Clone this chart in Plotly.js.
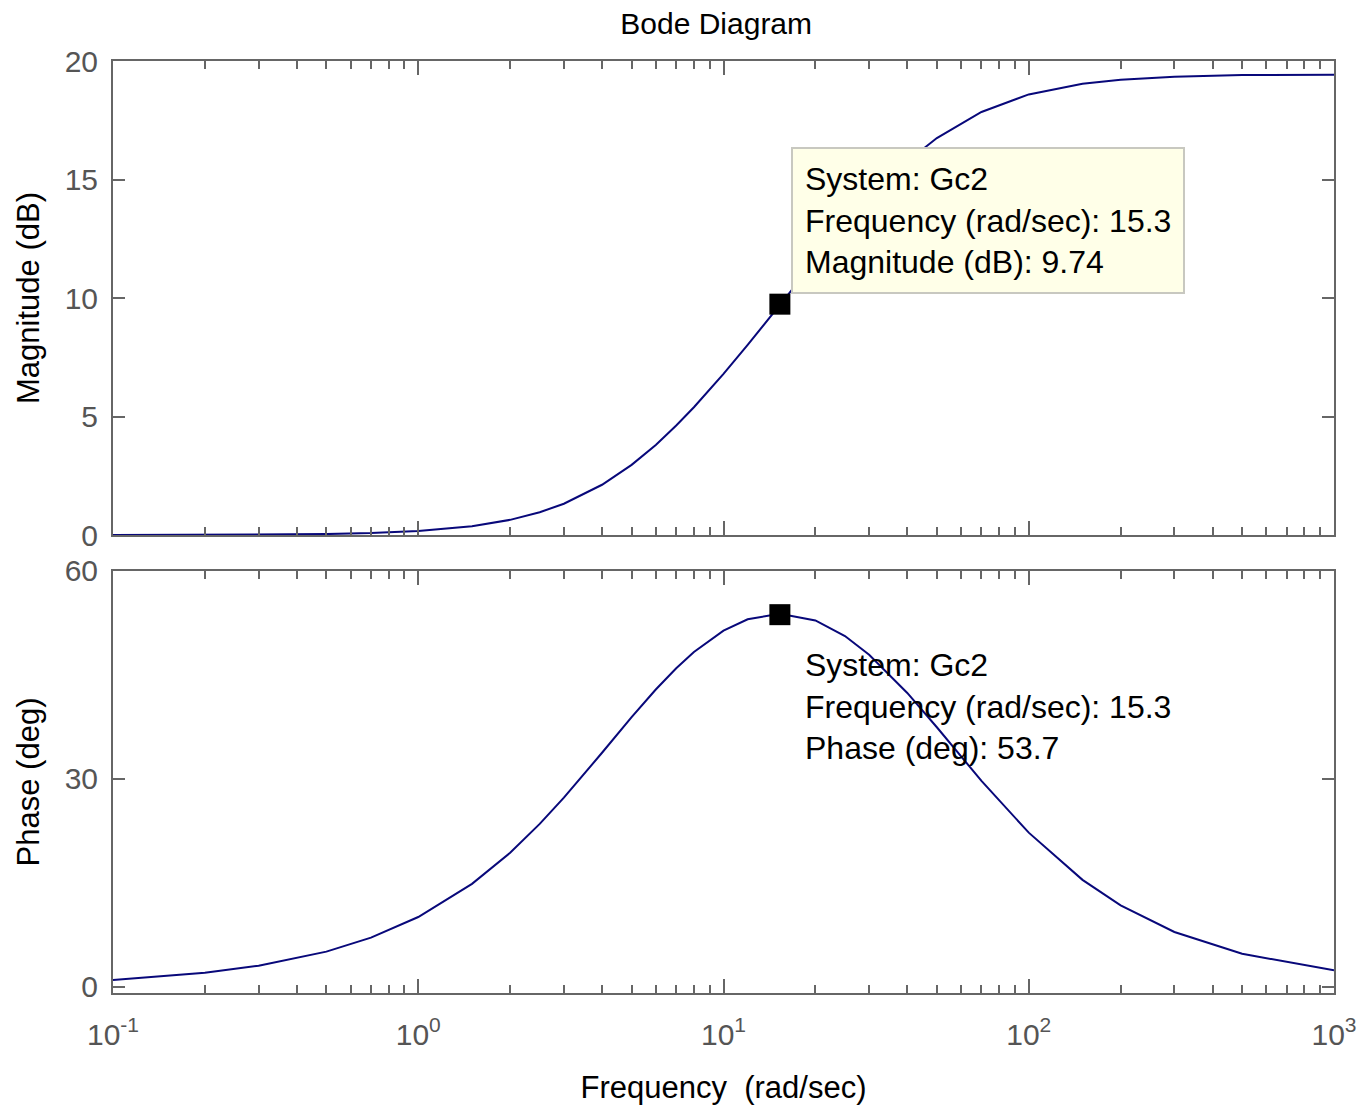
<!DOCTYPE html>
<html>
<head>
<meta charset="utf-8">
<script src="https://cdn.plot.ly/plotly-3.0.1.min.js"></script>
<style>
html,body{margin:0;padding:0;background:#fff;}
#chart{width:1361px;height:1107px;}
</style>
</head>
<body>
<div id="chart"></div>
<script>
// Frequencies (rad/sec)
const freq = [0.1, 0.2, 0.3, 0.5, 0.7, 1, 1.5, 2, 2.5, 3, 4, 5, 6, 7, 8, 10, 12, 15.3, 20, 25, 30, 40, 50, 70, 100, 150, 200, 300, 500, 1000];
// Magnitude (dB)
const magDb = [0.00, 0.01, 0.02, 0.04, 0.08, 0.17, 0.37, 0.64, 0.96, 1.32, 2.12, 2.96, 3.80, 4.62, 5.39, 6.80, 8.02, 9.72, 11.58, 13.06, 14.19, 15.76, 16.75, 17.85, 18.59, 19.04, 19.21, 19.34, 19.41, 19.42];
// Phase (deg)
const phaseDeg = [1.02, 2.05, 3.07, 5.10, 7.11, 10.09, 14.87, 19.36, 23.52, 27.30, 33.78, 38.91, 42.90, 45.97, 48.31, 51.39, 53.03, 53.83, 52.87, 50.62, 47.93, 42.41, 37.46, 29.73, 22.26, 15.45, 11.77, 7.93, 4.79, 2.40];

// Data tip values
const tipFreq = 15.3;
const tipMag = 9.74;
const tipPhase = 53.7;
const systemName = "Gc2";

// Axis ticks
const xTickVals = [0.1, 1, 10, 100, 1000];
const xTickText = ["10<sup>-1</sup>", "10<sup>0</sup>", "10<sup>1</sup>", "10<sup>2</sup>", "10<sup>3</sup>"];
const magTicks = [0, 5, 10, 15, 20];
const phaseTicks = [0, 30, 60];

const lineColor = "#08087a";
const axisColor = "#666666";
const tickFontColor = "#555555";
const FONT = "Liberation Sans, Arial, Helvetica, sans-serif";

const traces = [
  {x: freq, y: magDb, xaxis: "x", yaxis: "y", type: "scatter", mode: "lines",
   line: {color: lineColor, width: 2}, hoverinfo: "skip", showlegend: false},
  {x: freq, y: phaseDeg, xaxis: "x2", yaxis: "y2", type: "scatter", mode: "lines",
   line: {color: lineColor, width: 2}, hoverinfo: "skip", showlegend: false},
  {x: [tipFreq], y: [tipMag], xaxis: "x", yaxis: "y", type: "scatter", mode: "markers",
   marker: {symbol: "square", size: 21, color: "#000"}, hoverinfo: "skip", showlegend: false},
  {x: [tipFreq], y: [tipPhase], xaxis: "x2", yaxis: "y2", type: "scatter", mode: "markers",
   marker: {symbol: "square", size: 21, color: "#000"}, hoverinfo: "skip", showlegend: false}
];

function xAxis(showLabels, anchor, titleText) {
  const ax = {
    type: "log", range: [-1, 3], anchor: anchor,
    showline: true, linecolor: axisColor, linewidth: 2, mirror: "ticks",
    ticks: "inside", ticklen: 14, tickwidth: 2, tickcolor: axisColor,
    tickmode: "array", tickvals: xTickVals, ticktext: xTickText,
    showticklabels: showLabels,
    tickfont: {family: FONT, size: 30, color: tickFontColor},
    ticklabelstandoff: 14,
    minor: {dtick: "D1", ticks: "inside", ticklen: 8, tickwidth: 2, tickcolor: axisColor, showgrid: false},
    showgrid: false, zeroline: false, fixedrange: true
  };
  if (titleText) ax.title = {text: titleText, font: {family: FONT, size: 31, color: "#000"}, standoff: 26};
  return ax;
}

function yAxis(range, ticks, domain, anchor, titleText) {
  return {
    range: range, domain: domain, anchor: anchor,
    showline: true, linecolor: axisColor, linewidth: 2, mirror: "ticks",
    ticks: "inside", ticklen: 12, tickwidth: 2, tickcolor: axisColor,
    tickmode: "array", tickvals: ticks,
    tickfont: {family: FONT, size: 30, color: tickFontColor},
    ticklabelstandoff: 7,
    showgrid: false, zeroline: false, fixedrange: true,
    title: {text: titleText, font: {family: FONT, size: 31, color: "#000"}, standoff: 16}
  };
}

const layout = {
  width: 1361, height: 1107,
  margin: {l: 113, r: 27, t: 61, b: 114},
  paper_bgcolor: "#fff", plot_bgcolor: "#fff",
  showlegend: false,
  title: {text: "Bode Diagram", font: {family: FONT, size: 30, color: "#000"},
          x: 0.494, xref: "paper", xanchor: "center", y: 1 - 23 / 1107, yref: "container", yanchor: "middle"},
  xaxis: Object.assign(xAxis(false, "y"), {matches: "x2"}),
  xaxis2: xAxis(true, "y2", "Frequency  (rad/sec)"),
  yaxis: yAxis([0, 20], magTicks, [0.4914, 1], "x", "Magnitude (dB)"),
  yaxis2: yAxis([-0.87, 60], phaseTicks, [0, 0.4528], "x2", "Phase (deg)"),
  annotations: [
    {xref: "x", yref: "y", x: Math.log10(tipFreq), y: tipMag,
     xanchor: "left", yanchor: "bottom", xshift: 11, yshift: 10, showarrow: false, align: "left",
     text: "System: " + systemName + "<br>Frequency (rad/sec): " + tipFreq + "<br>Magnitude (dB): " + tipMag,
     font: {family: FONT, size: 32, color: "#000"},
     bgcolor: "#ffffe8", bordercolor: "#c8c8c0", borderwidth: 2, borderpad: 12},
    {xref: "x2", yref: "y2", x: Math.log10(tipFreq), y: tipPhase,
     xanchor: "left", yanchor: "top", xshift: 11, yshift: -18, showarrow: false, align: "left",
     text: "System: " + systemName + "<br>Frequency (rad/sec): " + tipFreq + "<br>Phase (deg): " + tipPhase,
     font: {family: FONT, size: 32, color: "#000"},
     bgcolor: "rgba(0,0,0,0)", bordercolor: "rgba(0,0,0,0)", borderwidth: 2, borderpad: 12}
  ]
};

Plotly.newPlot("chart", traces, layout, {staticPlot: true, displayModeBar: false});
</script>
</body>
</html>
